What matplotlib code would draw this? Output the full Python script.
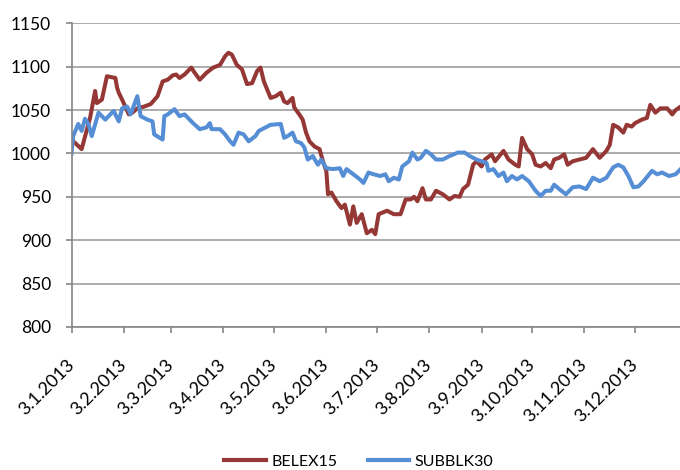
import numpy as np
import pandas as pd
import matplotlib
matplotlib.use("Agg")
import matplotlib.pyplot as plt
import matplotlib.dates as mdates
from matplotlib.lines import Line2D

# BELEX15
belex_dates = ["2013-01-03", "2013-01-09", "2013-01-14", "2013-01-17", "2013-01-18", "2013-01-21",
               "2013-01-24", "2013-01-29", "2013-01-30", "2013-01-31", "2013-02-02", "2013-02-06",
               "2013-02-08", "2013-02-11", "2013-02-15", "2013-02-19", "2013-02-23", "2013-02-26",
               "2013-03-01", "2013-03-04", "2013-03-06", "2013-03-08", "2013-03-11", "2013-03-13",
               "2013-03-15", "2013-03-17", "2013-03-20", "2013-03-24", "2013-03-28", "2013-04-01",
               "2013-04-04", "2013-04-06", "2013-04-08", "2013-04-11", "2013-04-14", "2013-04-17",
               "2013-04-20", "2013-04-23", "2013-04-25", "2013-04-27", "2013-05-01", "2013-05-04",
               "2013-05-07", "2013-05-09", "2013-05-11", "2013-05-14", "2013-05-15", "2013-05-18",
               "2013-05-20", "2013-05-22", "2013-05-24", "2013-05-27", "2013-05-30", "2013-06-01",
               "2013-06-03", "2013-06-04", "2013-06-06", "2013-06-09", "2013-06-12", "2013-06-14",
               "2013-06-17", "2013-06-19", "2013-06-21", "2013-06-24", "2013-06-27", "2013-06-30",
               "2013-07-02", "2013-07-04", "2013-07-09", "2013-07-13", "2013-07-17", "2013-07-20",
               "2013-07-23", "2013-07-25", "2013-07-27", "2013-07-30", "2013-08-01", "2013-08-04",
               "2013-08-07", "2013-08-11", "2013-08-15", "2013-08-18", "2013-08-21", "2013-08-23",
               "2013-08-26", "2013-08-29", "2013-08-31", "2013-09-03", "2013-09-05", "2013-09-09",
               "2013-09-11", "2013-09-16", "2013-09-19", "2013-09-23", "2013-09-25", "2013-09-27",
               "2013-09-30", "2013-10-03", "2013-10-05", "2013-10-08", "2013-10-11", "2013-10-14",
               "2013-10-16", "2013-10-19", "2013-10-22", "2013-10-24", "2013-10-27", "2013-10-31",
               "2013-11-04", "2013-11-08", "2013-11-12", "2013-11-16", "2013-11-18", "2013-11-20",
               "2013-11-23", "2013-11-26", "2013-11-28", "2013-12-01", "2013-12-03", "2013-12-07",
               "2013-12-10", "2013-12-12", "2013-12-15", "2013-12-18", "2013-12-22", "2013-12-25",
               "2013-12-27", "2013-12-30"]
belex_values = [1016, 1005, 1041, 1072, 1058, 1062,
                1089, 1087, 1076, 1070, 1062, 1045,
                1047, 1052, 1054, 1057, 1066, 1083,
                1085, 1090, 1091, 1087, 1091, 1095,
                1099, 1093, 1085, 1093, 1099, 1102,
                1112, 1116, 1114, 1102, 1097, 1080,
                1081, 1095, 1099, 1083, 1064, 1066,
                1070, 1060, 1058, 1064, 1053, 1045,
                1039, 1024, 1014, 1008, 1005, 991,
                980, 953, 955, 945, 937, 941,
                918, 939, 920, 930, 908, 912,
                907, 930, 934, 930, 930, 947,
                947, 950, 945, 960, 947, 947,
                957, 953, 947, 951, 950, 959,
                964, 987, 991, 985, 993, 999,
                991, 1003, 993, 987, 985, 1018,
                1005, 999, 987, 985, 989, 983,
                993, 995, 999, 987, 991, 993,
                995, 1005, 995, 1003, 1010, 1033,
                1030, 1024, 1033, 1031, 1035, 1039,
                1041, 1056, 1047, 1052, 1052, 1045,
                1050, 1054]

# SUBBLK30
sub_dates = ["2013-01-03", "2013-01-04", "2013-01-07", "2013-01-09", "2013-01-11", "2013-01-13",
             "2013-01-15", "2013-01-19", "2013-01-23", "2013-01-28", "2013-01-31", "2013-02-02",
             "2013-02-05", "2013-02-07", "2013-02-11", "2013-02-13", "2013-02-17", "2013-02-20",
             "2013-02-21", "2013-02-26", "2013-02-27", "2013-03-01", "2013-03-05", "2013-03-08",
             "2013-03-11", "2013-03-13", "2013-03-16", "2013-03-20", "2013-03-24", "2013-03-26",
             "2013-03-27", "2013-04-01", "2013-04-04", "2013-04-07", "2013-04-09", "2013-04-12",
             "2013-04-15", "2013-04-18", "2013-04-22", "2013-04-24", "2013-04-28", "2013-05-01",
             "2013-05-07", "2013-05-09", "2013-05-11", "2013-05-14", "2013-05-16", "2013-05-19",
             "2013-05-21", "2013-05-23", "2013-05-26", "2013-05-29", "2013-05-31", "2013-06-03",
             "2013-06-07", "2013-06-11", "2013-06-13", "2013-06-15", "2013-06-19", "2013-06-23",
             "2013-06-25", "2013-06-28", "2013-07-01", "2013-07-05", "2013-07-08", "2013-07-10",
             "2013-07-13", "2013-07-16", "2013-07-18", "2013-07-22", "2013-07-24", "2013-07-27",
             "2013-07-29", "2013-08-01", "2013-08-04", "2013-08-07", "2013-08-11", "2013-08-15",
             "2013-08-20", "2013-08-24", "2013-08-27", "2013-08-31", "2013-09-03", "2013-09-06",
             "2013-09-07", "2013-09-10", "2013-09-13", "2013-09-16", "2013-09-18", "2013-09-21",
             "2013-09-24", "2013-09-27", "2013-10-01", "2013-10-05", "2013-10-08", "2013-10-11",
             "2013-10-14", "2013-10-16", "2013-10-19", "2013-10-23", "2013-10-27", "2013-10-31",
             "2013-11-04", "2013-11-08", "2013-11-12", "2013-11-16", "2013-11-20", "2013-11-23",
             "2013-11-26", "2013-11-29", "2013-12-02", "2013-12-05", "2013-12-08", "2013-12-13",
             "2013-12-16", "2013-12-19", "2013-12-23", "2013-12-27", "2013-12-30"]
sub_values = [1000, 1020, 1034, 1026, 1040, 1034,
              1020, 1047, 1039, 1049, 1037, 1052,
              1054, 1045, 1066, 1043, 1039, 1037,
              1022, 1016, 1043, 1045, 1051, 1043,
              1045, 1041, 1035, 1028, 1030, 1035,
              1028, 1028, 1022, 1014, 1010, 1024,
              1022, 1014, 1020, 1026, 1030, 1033,
              1034, 1018, 1020, 1024, 1014, 1012,
              1007, 993, 997, 987, 993, 983,
              982, 983, 974, 982, 976, 970,
              966, 978, 976, 974, 976, 968,
              972, 970, 985, 991, 1001, 993,
              995, 1003, 999, 993, 993, 997,
              1001, 1001, 997, 993, 991, 989,
              980, 982, 974, 978, 968, 974,
              970, 974, 968, 957, 951, 957,
              957, 964, 959, 953, 961, 962,
              959, 972, 968, 972, 984, 987,
              984, 974, 961, 962, 968, 980,
              976, 978, 974, 976, 982]

series_names = ["BELEX15", "SUBBLK30"]
tick_dates = ["2013-01-03", "2013-02-03", "2013-03-03", "2013-04-03", "2013-05-03", "2013-06-03",
              "2013-07-03", "2013-08-03", "2013-09-03", "2013-10-03", "2013-11-03", "2013-12-03"]
y_ticks = [800, 850, 900, 950, 1000, 1050, 1100, 1150]

red = "#953735"
blue = "#558ED5"
grid_col = "#A6A6A6"
axis_col = "#868686"

plt.rcParams["font.family"] = ["Lato", "DejaVu Sans"]

fig = plt.figure(figsize=(6.8, 4.7), dpi=100)
ax = fig.add_axes([71.5 / 680, 1 - 327 / 470, 1 - 71.5 / 680, (327 - 23.3) / 470])

ax.plot(pd.to_datetime(belex_dates), belex_values, color=red, lw=2.9, solid_joinstyle="round")
ax.plot(pd.to_datetime(sub_dates), sub_values, color=blue, lw=2.9, solid_joinstyle="round")

start = pd.Timestamp("2013-01-03")
ax.set_xlim(start, start + pd.Timedelta(days=360.6))
ax.set_ylim(800, 1150)
ax.set_yticks(y_ticks)
ax.set_xticks(pd.to_datetime(tick_dates))
ax.xaxis.set_major_formatter(mdates.DateFormatter("%-d.%-m.%Y"))

ax.grid(axis="y", color=grid_col, lw=1.3)
ax.set_axisbelow(True)
for s in ["top", "right"]:
    ax.spines[s].set_visible(False)
for s in ["left", "bottom"]:
    ax.spines[s].set_color(axis_col)
    ax.spines[s].set_linewidth(1.2)

ax.tick_params(axis="y", length=4.3, width=1.2, color=axis_col, labelsize=12.5, pad=10.5, labelcolor="black")
ax.tick_params(axis="x", length=4.3, width=1.2, color=axis_col, labelsize=13, pad=21, labelcolor="black")
for lbl in ax.get_xticklabels():
    lbl.set_rotation(45)
    lbl.set_ha("right")
    lbl.set_va("center")
    lbl.set_rotation_mode("anchor")

handles = [Line2D([0], [0], color=red, lw=3), Line2D([0], [0], color=blue, lw=3)]
fig.legend(handles, series_names, loc="center", bbox_to_anchor=(0.528, 0.018), ncol=2,
           frameon=False, fontsize=11.5, handlelength=2.6, handletextpad=0.35, columnspacing=1.9)

fig.savefig("out.png", dpi=100)
